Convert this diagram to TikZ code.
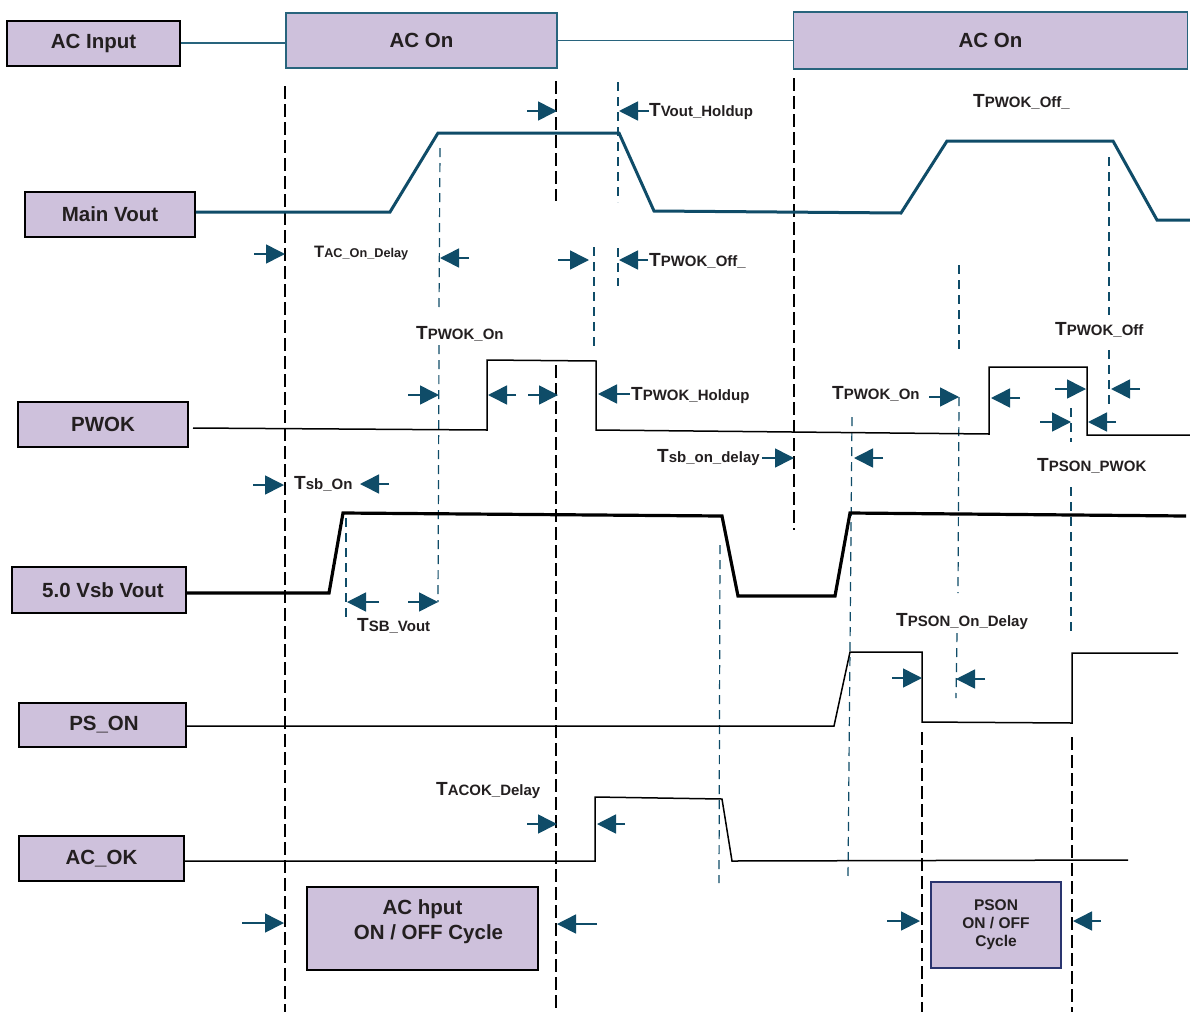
\documentclass[tikz,border=0pt]{standalone}
\usepackage{fontspec}
\setmainfont{Liberation Sans}
\usetikzlibrary{arrows.meta}
\definecolor{lav}{RGB}{206,193,220}
\definecolor{tealc}{RGB}{15,76,104}
\definecolor{tealb}{RGB}{40,100,125}
\definecolor{navyb}{RGB}{42,53,112}
\definecolor{txt}{RGB}{35,31,32}
\newcommand{\tlab}[2]{{\fontsize{19}{22}\selectfont T}{\fontsize{15}{18}\selectfont #1}}
\newcommand{\tlabs}[1]{{\fontsize{16.5}{20}\selectfont T}{\fontsize{12.7}{15}\selectfont #1}}
\begin{document}
\begin{tikzpicture}[x=1pt,y=-1pt,
  sigbox/.style={draw=black, line width=1.8pt, fill=lav, inner sep=0pt, align=center,
     text=txt, font=\bfseries\fontsize{20.5}{25}\selectfont},
  tealbox/.style={sigbox, draw=tealb},
  boxtext/.style={inner sep=0pt, align=center, text=txt, font=\bfseries\fontsize{20.5}{25}\selectfont},
  mainw/.style={tealc, line width=3pt, line join=miter},
  vsbw/.style={black, line width=3.2pt},
  thinw/.style={black, line width=1.5pt},
  topw/.style={tealb, line width=1.5pt},
  bdash/.style={black, line width=1.4pt, dash pattern=on 13pt off 5pt},
  tdash/.style={tealc, line width=1.2pt, dash pattern=on 9pt off 6pt},
  arr/.style={tealc, line width=1.6pt, -{Triangle[length=19pt,width=19pt]}},
  tl/.style={anchor=base west, inner sep=0pt, text=txt, font=\bfseries}
]
\useasboundingbox (0,0) rectangle (1190,1012);
\fill[white] (0,0) rectangle (1190,1012);

% ---------- boxes ----------
\node[sigbox, minimum width=173pt, minimum height=45pt] (acin) at (93.5,43.5) {AC Input};
\node[tealbox, minimum width=271pt, minimum height=55pt] (acon1) at (421.5,40.5) {AC On};
\node[tealbox, minimum width=394pt, minimum height=57pt] (acon2) at (990.5,40.5) {AC On};
\node[sigbox, minimum width=170pt, minimum height=45pt] (mainv) at (110,214.5) {Main Vout};
\node[sigbox, minimum width=170pt, minimum height=45pt] (pwok) at (103,424.5) {PWOK};
\node[sigbox, minimum width=174pt, minimum height=46pt] (vsb) at (99,590) {\hspace*{8pt}5.0 Vsb Vout};
\node[sigbox, minimum width=167pt, minimum height=44pt] (pson) at (102.5,725) {\hspace*{3pt}PS\_ON};
\node[sigbox, minimum width=165pt, minimum height=45pt] (acok) at (101.5,858.5) {AC\_OK};
\node[sigbox, minimum width=231pt, minimum height=83pt] (accyc) at (422.5,928.5) {};
\node[boxtext] (accyctext) at ([yshift=7pt]accyc.center) {AC hput\\\hspace*{12pt}ON / OFF Cycle};
\node[sigbox, draw=navyb, line width=1.5pt, minimum width=130pt, minimum height=86pt,
      font=\bfseries\fontsize{15.5}{18}\selectfont] (psoncyc) at (996,925) {PSON\\ON / OFF\\Cycle};

% ---------- AC input line ----------
\draw[topw] (acin.east |- 0,43) -- (acon1.west |- 0,43);
\draw[topw] (acon1.east) -- (acon2.west);

% ---------- black dashed guides ----------
\draw[bdash] (285,86) -- (285,1012);
\draw[bdash] (556,81) -- (556,201);
\draw[bdash] (556,365) -- (556,1012);
\draw[bdash] (794,78) -- (794,530);
\draw[bdash] (922,732) -- (922,1012);
\draw[bdash] (1072,737) -- (1072,1012);

% ---------- teal dashed guides ----------
\draw[tdash] (618,82) -- (618,202);
\draw[tdash] (618,248) -- (618,286);
\draw[tdash] (594,247) -- (594,350);
\draw[tdash] (440,148) -- (439,312);
\draw[tdash] (439,345) -- (438,602);
\draw[tdash] (346,518) -- (346,617);
\draw[tdash] (720,545) -- (719,883);
\draw[tdash] (852,417) -- (848,878);
\draw[tdash] (959,265) -- (959,350);
\draw[tdash] (959,397) -- (958,593);
\draw[tdash] (957,633) -- (956,698);
\draw[tdash] (1109,157) -- (1109,315);
\draw[tdash] (1109,350) -- (1109,405);
\draw[tdash] (1071,408) -- (1071,442);
\draw[tdash] (1071,487) -- (1071,633);

% ---------- waveforms ----------
\draw[mainw] (mainv.east |- 0,212) -- (390,212) -- (438,133) -- (619,133) -- (654,211)
   -- (901,213) -- (947,141) -- (1113,141) -- (1157,220) -- (1190,220);
\draw[thinw] (193,428) -- (487,430) -- (487,360) -- (596,361) -- (596,430)
   -- (989,434) -- (989,367) -- (1087,367) -- (1087,435) -- (1190,435);
\draw[vsbw] (vsb.east |- 0,593) -- (329,593) -- (343,513) -- (722,516) -- (738,596)
   -- (835,596) -- (850,513) -- (1186,516);
\draw[thinw] (pson.east |- 0,726) -- (834,726) -- (850,652) -- (922,652) -- (922,722)
   -- (1072,723) -- (1072,653) -- (1178,653);
\draw[thinw] (acok.east |- 0,861) -- (595,861) -- (595,797) -- (722,799) -- (732,861)
   -- (1128,860);

% ---------- arrows ----------
\draw[arr] (527,111) -- (557,111);
\draw[arr] (649,111) -- (619,111);
\draw[arr] (254,254) -- (285,254);
\draw[arr] (469,258) -- (440,258);
\draw[arr] (558,260) -- (589,260);
\draw[arr] (648,260) -- (619,260);
\draw[arr] (408,395) -- (439,395);
\draw[arr] (516,395) -- (488,395);
\draw[arr] (528,395) -- (558,395);
\draw[arr] (630,394) -- (598,394);
\draw[arr] (929,397) -- (959,397);
\draw[arr] (1020,398) -- (991,398);
\draw[arr] (1055,389) -- (1086,389);
\draw[arr] (1140,389) -- (1111,389);
\draw[arr] (1040,422) -- (1071,422);
\draw[arr] (1116,422) -- (1088,422);
\draw[arr] (762,458) -- (794,458);
\draw[arr] (883,458) -- (854,458);
\draw[arr] (253,485) -- (284,485);
\draw[arr] (389,484) -- (360,484);
\draw[arr] (379,602) -- (347,602);
\draw[arr] (408,602) -- (438,602);
\draw[arr] (892,678) -- (922,678);
\draw[arr] (985,679) -- (956,679);
\draw[arr] (527,824) -- (557,824);
\draw[arr] (625,824) -- (597,824);
\draw[arr] (242,923) -- (284,923);
\draw[arr] (597,924) -- (557,924);
\draw[arr] (887,921) -- (920,921);
\draw[arr] (1101,921) -- (1073,921);

% ---------- timing labels ----------
\node[tl] (lvh) at (649,116) {\tlab{Vout\_Holdup}{}};
\node[tl] (lpo1) at (973,107) {\tlab{PWOK\_Off\_}{}};
\node[tl] (laod) at (314,257) {\tlabs{AC\_On\_Delay}};
\node[tl] (lpo2) at (649,266) {\tlab{PWOK\_Off\_}{}};
\node[tl] (lpon1) at (416,339) {\tlab{PWOK\_On}{}};
\node[tl] (lph) at (631,400) {\tlab{PWOK\_Holdup}{}};
\node[tl] (lpon2) at (832,399) {\tlab{PWOK\_On}{}};
\node[tl] (lpoff) at (1055,335) {\tlab{PWOK\_Off}{}};
\node[tl] (lsod) at (657,462) {\tlab{sb\_on\_delay}{}};
\node[tl] (lpp) at (1037,471) {\tlab{PSON\_PWOK}{}};
\node[tl] (lsbon) at (294,489) {\tlab{sb\_On}{}};
\node[tl] (lsbv) at (357,631) {\tlab{SB\_Vout}{}};
\node[tl] (lpod) at (896,626) {\tlab{PSON\_On\_Delay}{}};
\node[tl] (lacd) at (436,795) {\tlab{ACOK\_Delay}{}};
\end{tikzpicture}
\end{document}
